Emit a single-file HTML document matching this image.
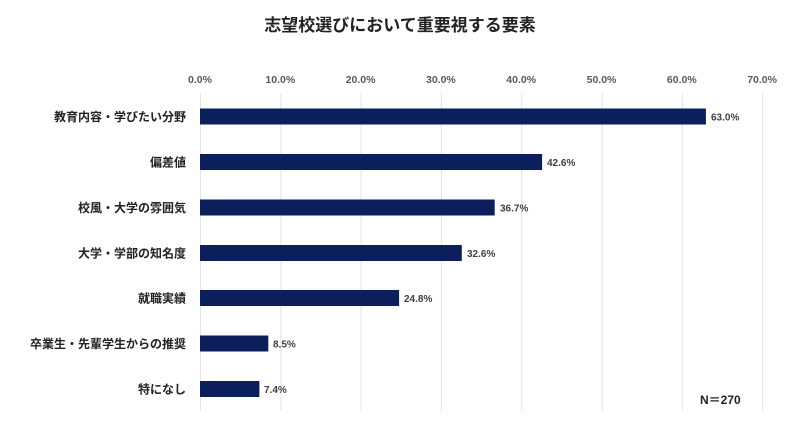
<!DOCTYPE html>
<html><head><meta charset="utf-8"><style>
body{margin:0;background:#fff;}
svg{display:block;font-family:"Liberation Sans","Noto Sans CJK JP",sans-serif;}
</style></head><body>
<svg width="800" height="429" viewBox="0 0 800 429" xmlns="http://www.w3.org/2000/svg">
<rect width="800" height="429" fill="#fff"/>
<text x="400" y="31" text-anchor="middle" font-size="17" font-weight="bold" fill="#222">志望校選びにおいて重要視する要素</text>
<g stroke="#e3e3e3" stroke-width="1">
<line x1="200.5" y1="93" x2="200.5" y2="411"/>
<line x1="280.8" y1="93" x2="280.8" y2="411"/>
<line x1="361.1" y1="93" x2="361.1" y2="411"/>
<line x1="441.4" y1="93" x2="441.4" y2="411"/>
<line x1="521.7" y1="93" x2="521.7" y2="411"/>
<line x1="602" y1="93" x2="602" y2="411"/>
<line x1="682.3" y1="93" x2="682.3" y2="411"/>
<line x1="762.6" y1="93" x2="762.6" y2="411"/>
</g>
<g font-size="10.5" fill="#595959" text-anchor="middle" font-weight="bold">
<text x="200" y="83">0.0%</text>
<text x="280.3" y="83">10.0%</text>
<text x="360.6" y="83">20.0%</text>
<text x="440.9" y="83">30.0%</text>
<text x="521.2" y="83">40.0%</text>
<text x="601.5" y="83">50.0%</text>
<text x="681.8" y="83">60.0%</text>
<text x="762.1" y="83">70.0%</text>
</g>
<g fill="#0b1f5c">
<rect x="200" y="108.5" width="505.9" height="16"/>
<rect x="200" y="154" width="342.1" height="16"/>
<rect x="200" y="199.5" width="294.7" height="16"/>
<rect x="200" y="245" width="261.8" height="16"/>
<rect x="200" y="290" width="199.1" height="16"/>
<rect x="200" y="335.5" width="68.3" height="16"/>
<rect x="200" y="381" width="59.4" height="16"/>
</g>
<g font-size="10" fill="#404040" font-weight="bold">
<text x="711" y="120.5">63.0%</text>
<text x="547" y="166">42.6%</text>
<text x="500" y="211.5">36.7%</text>
<text x="467" y="257">32.6%</text>
<text x="404" y="302">24.8%</text>
<text x="273" y="347.5">8.5%</text>
<text x="264" y="393">7.4%</text>
</g>
<g font-size="12" fill="#222" text-anchor="end" font-weight="bold">
<text x="186" y="121">教育内容・学びたい分野</text>
<text x="186" y="166.5">偏差値</text>
<text x="186" y="212">校風・大学の雰囲気</text>
<text x="186" y="257.5">大学・学部の知名度</text>
<text x="186" y="302.5">就職実績</text>
<text x="186" y="348">卒業生・先輩学生からの推奨</text>
<text x="186" y="393.5">特になし</text>
</g>
<text x="700" y="404" font-size="12" font-weight="bold" fill="#222">N＝270</text>
</svg>
</body></html>
